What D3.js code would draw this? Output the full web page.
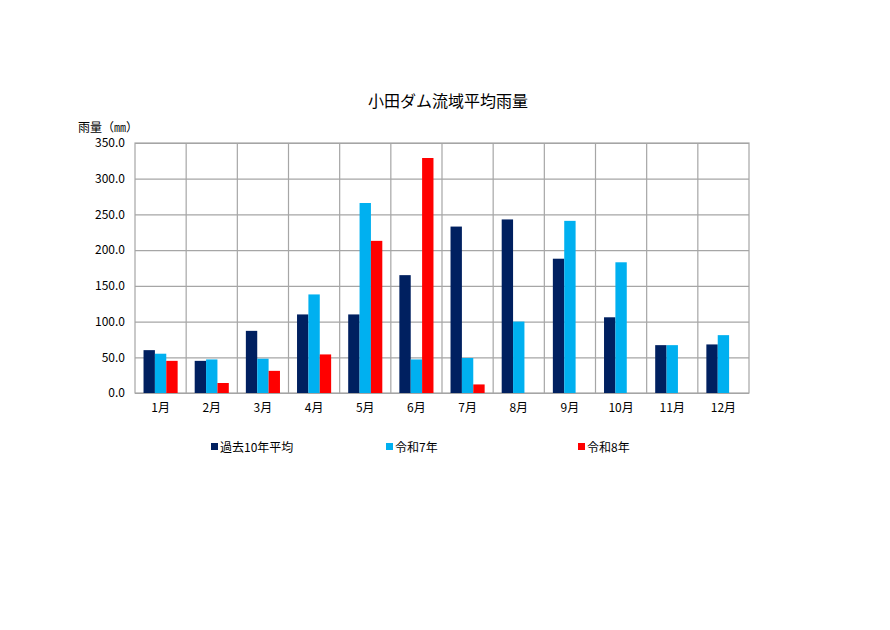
<!DOCTYPE html>
<html>
<head>
<meta charset="utf-8">
<script src="https://cdn.jsdelivr.net/npm/d3@7"></script>
<style>
  body { margin: 0; background: #fff; }
  svg { display: block; }
  text { font-family: "Noto Sans CJK JP", sans-serif; fill: #000; }
</style>
</head>
<body>
<div id="chart"></div>
<script>
// Monthly rainfall (mm)
const months = ['1月', '2月', '3月', '4月', '5月', '6月', '7月', '8月', '9月', '10月', '11月', '12月'];
const avg10 = [60, 45, 87, 110, 110, 165, 233, 243, 188, 106, 67, 68];
const r7 = [55, 47, 48, 138, 266, 47, 49, 100, 241, 183, 67, 81];
const r8 = [45, 14, 31, 54, 213, 329, 12, null, null, null, null, null];
const seriesNames = ['過去10年平均', '令和7年', '令和8年'];
const seriesColors = ['#002060', '#00B0F0', '#FF0000'];
const yTicks = [0, 50, 100, 150, 200, 250, 300, 350];

const width = 890, height = 630;
const margin = { top: 143, left: 135, right: 141, bottom: 237 };
const W = width - margin.left - margin.right;
const H = height - margin.top - margin.bottom;

const svg = d3.select('#chart').append('svg')
  .attr('width', width).attr('height', height);

const g = svg.append('g').attr('transform', `translate(${margin.left},${margin.top})`);

const x = d3.scaleBand().domain(months).range([0, W]).paddingInner(0).paddingOuter(0);
const xs = d3.scaleBand().domain(seriesNames).range([0, x.bandwidth()]).paddingInner(0).paddingOuter(0.75);
const y = d3.scaleLinear().domain([0, 350]).range([H, 0]);

// grid lines
g.append('g')
  .call(d3.axisLeft(y).tickValues(yTicks).tickSize(-W).tickFormat(''))
  .call(a => a.select('.domain').remove())
  .selectAll('line').attr('stroke', '#a6a6a6').attr('stroke-width', 1.2);

g.append('g')
  .selectAll('line').data(months.slice(1)).join('line')
  .attr('x1', d => x(d)).attr('x2', d => x(d))
  .attr('y1', 0).attr('y2', H)
  .attr('stroke', '#a6a6a6').attr('stroke-width', 1.2);

g.append('rect')
  .attr('width', W).attr('height', H)
  .attr('fill', 'none').attr('stroke', '#a6a6a6').attr('stroke-width', 1.2);

// bars
const allSeries = [avg10, r7, r8];
allSeries.forEach((vals, si) => {
  g.append('g').selectAll('rect')
    .data(months.map((m, i) => ({ m, v: vals[i] })).filter(d => d.v != null))
    .join('rect')
    .attr('x', d => x(d.m) + xs(seriesNames[si]))
    .attr('width', xs.bandwidth())
    .attr('y', d => y(d.v))
    .attr('height', d => H - y(d.v))
    .attr('fill', seriesColors[si]);
});

// y axis labels
g.append('g')
  .call(d3.axisLeft(y).tickValues(yTicks).tickSize(0).tickPadding(10).tickFormat(d3.format('.1f')))
  .call(a => a.select('.domain').remove())
  .selectAll('text')
  .attr('font-size', '12px');

// x axis labels
g.append('g')
  .attr('transform', `translate(0,${H})`)
  .call(d3.axisBottom(x).tickSize(0).tickPadding(10))
  .call(a => a.select('.domain').remove())
  .selectAll('text')
  .attr('font-size', '12px');

// title
svg.append('text')
  .attr('x', 448).attr('y', 107)
  .attr('text-anchor', 'middle')
  .attr('font-size', '16px')
  .text('小田ダム流域平均雨量');

// y-axis title
svg.append('text')
  .attr('x', 78).attr('y', 132)
  .attr('font-size', '12px')
  .text('雨量（㎜）');

// legend
const legendX = [211, 386, 578];
const lg = svg.append('g');
seriesNames.forEach((name, i) => {
  lg.append('rect')
    .attr('x', legendX[i]).attr('y', 443)
    .attr('width', 7).attr('height', 7)
    .attr('fill', seriesColors[i]);
  lg.append('text')
    .attr('x', legendX[i] + 9).attr('y', 451.5)
    .attr('font-size', '12px')
    .text(name);
});
</script>
</body>
</html>
